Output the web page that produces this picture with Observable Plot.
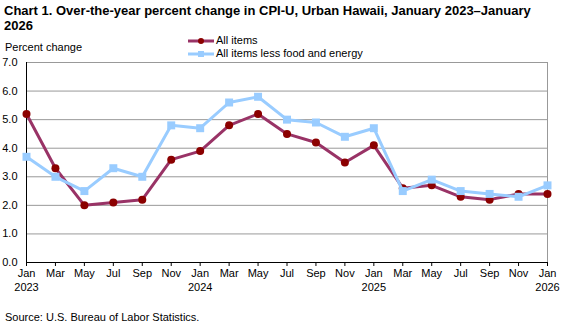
<!DOCTYPE html>
<html><head><meta charset="utf-8">
<script src="https://cdn.jsdelivr.net/npm/d3@7"></script>
<script src="https://cdn.jsdelivr.net/npm/@observablehq/plot@0.6"></script>
<style>
body{margin:0;width:568px;height:327px;position:relative;font-family:"Liberation Sans",Arial,sans-serif;background:#fff;overflow:hidden;color:#000}
#title{position:absolute;left:4px;top:3px;font-weight:bold;font-size:13px;line-height:15px;white-space:nowrap}
#ylab{position:absolute;left:5px;top:41px;font-size:11px;z-index:2}
#legend{position:absolute;left:188px;top:34px;font-size:11px;line-height:13px;z-index:2}
#legend div{display:flex;align-items:center;height:13px}
#legend svg{margin-right:2px}
#chart{position:absolute;left:0;top:55px;z-index:1}
#source{position:absolute;left:5px;top:311px;font-size:11px}
</style></head>
<body>
<div id="title">Chart 1. Over-the-year percent change in CPI-U, Urban Hawaii, January 2023–January<br>2026</div>
<div id="ylab">Percent change</div>
<div id="legend"></div>
<div id="chart"></div>
<div id="source">Source: U.S. Bureau of Labor Statistics.</div>
<script>
const periods = ["Jan 2023","Mar 2023","May 2023","Jul 2023","Sep 2023","Nov 2023",
  "Jan 2024","Mar 2024","May 2024","Jul 2024","Sep 2024","Nov 2024",
  "Jan 2025","Mar 2025","May 2025","Jul 2025","Sep 2025","Nov 2025","Jan 2026"];
const allItems = [5.2,3.3,2.0,2.1,2.2,3.6,3.9,4.8,5.2,4.5,4.2,3.5,4.1,2.6,2.7,2.3,2.2,2.4,2.4];
const coreItems = [3.7,3.0,2.5,3.3,3.0,4.8,4.7,5.6,5.8,5.0,4.9,4.4,4.7,2.5,2.9,2.5,2.4,2.3,2.7];
const seriesNames = ["All items","All items less food and energy"];
const yTicks = [0,1,2,3,4,5,6,7];

const allData = periods.map((p,i)=>({period:p, value:allItems[i]}));
const coreData = periods.map((p,i)=>({period:p, value:coreItems[i]}));

const allLine = "#993366", allDot = "#8b0000", coreColor = "#99ccff";

const legend = document.getElementById("legend");
legend.innerHTML =
  `<div><svg width="26" height="10"><line x1="0" x2="26" y1="5" y2="5" stroke="${allLine}" stroke-width="3"/><circle cx="13" cy="5" r="3" fill="${allDot}"/></svg>${seriesNames[0]}</div>` +
  `<div><svg width="26" height="10"><line x1="0" x2="26" y1="5" y2="5" stroke="${coreColor}" stroke-width="3"/><rect x="10" y="2" width="6" height="6" fill="${coreColor}"/></svg>${seriesNames[1]}</div>`;

const M = {marginLeft: 26, marginRight: 21, marginTop: 7, marginBottom: 48};
const chart = Plot.plot({
  width: 568, height: 255, ...M,
  style: {fontFamily: "'Liberation Sans', Arial, sans-serif", fontSize: "11px", color: "#000", background: "transparent"},
  x: {type: "point", domain: periods, padding: 0, round: false, label: null},
  y: {domain: [0, 7], label: null},
  marks: [
    Plot.gridY(yTicks, {stroke: "#999", strokeOpacity: 1}),
    Plot.frame({stroke: "#999"}),
    Plot.ruleX([periods[0]], {stroke: "#000"}),
    Plot.ruleY([0], {stroke: "#000"}),
    Plot.axisY(yTicks, {tickSize: 0, tickPadding: 9, tickFormat: d3.format(".1f"), label: null}),
    Plot.axisX({tickSize: 4, tickPadding: 1, label: null, lineHeight: 1.25,
      tickFormat: p => p.startsWith("Jan") ? p.replace(" ", "\n") : p.split(" ")[0]}),
    Plot.line(allData, {x: "period", y: "value", stroke: allLine, strokeWidth: 3}),
    Plot.dot(allData, {x: "period", y: "value", r: 4, fill: allDot, stroke: "none"}),
    Plot.line(coreData, {x: "period", y: "value", stroke: coreColor, strokeWidth: 3}),
    Plot.dot(coreData, {x: "period", y: "value", r: 4.5, symbol: "square", fill: coreColor, stroke: "none"})
  ]
});
document.getElementById("chart").appendChild(chart);
</script>
</body></html>
